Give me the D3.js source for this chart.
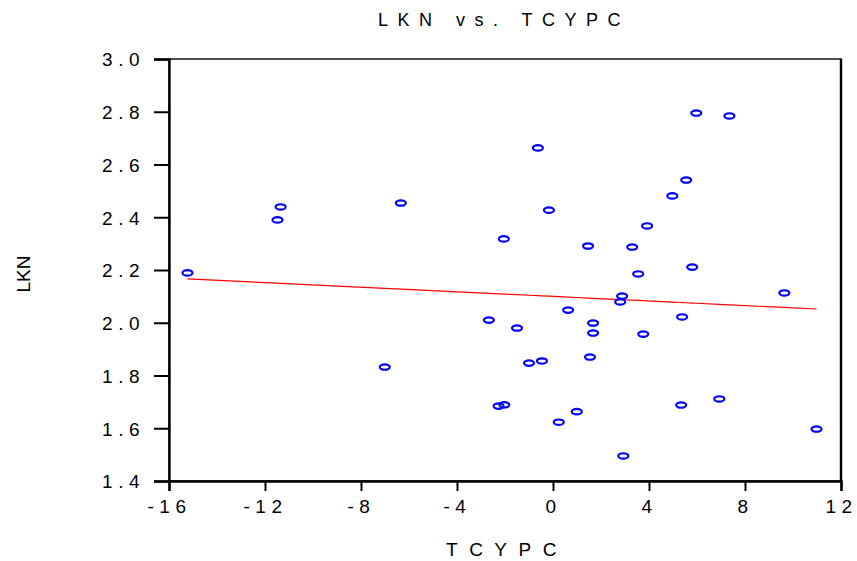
<!DOCTYPE html>
<html>
<head>
<meta charset="utf-8">
<script src="https://cdn.jsdelivr.net/npm/d3@7"></script>
<style>
  body { margin: 0; background: #fff; }
  svg { display: block; font-family: "Liberation Sans", Arial, sans-serif; }
</style>
</head>
<body>
<svg width="857" height="561"></svg>
<script>
"use strict";
// TCYPC (x) and LKN (y)
var tcypc = [-15.23, -11.48, -11.35, -6.34, -7.01, -0.63, -0.17, -2.05, 1.46, 3.30,
             3.92, 3.55, 4.97, 5.55, 5.97, 7.35, 5.80, 9.64, 2.88, 2.80,
             -2.67, -1.50, 0.63, 1.67, 1.67, 3.76, 5.38, 1.54, -1.00, -0.46,
             -2.27, -2.03, 0.24, 0.99, 2.93, 5.34, 6.93, 10.98];
var lkn = [2.189, 2.390, 2.439, 2.454, 1.832, 2.663, 2.427, 2.318, 2.291, 2.287,
           2.367, 2.185, 2.481, 2.541, 2.795, 2.784, 2.211, 2.113, 2.101, 2.079,
           2.010, 1.980, 2.048, 1.999, 1.961, 1.957, 2.022, 1.870, 1.847, 1.855,
           1.684, 1.689, 1.623, 1.663, 1.495, 1.688, 1.711, 1.597];
var xTicks = [-16, -12, -8, -4, 0, 4, 8, 12];
var xTickLabels = ["-16", "-12", "-8", "-4", "0", "4", "8", "12"];
var yTicks = [1.4, 1.6, 1.8, 2.0, 2.2, 2.4, 2.6, 2.8, 3.0];
var yTickLabels = ["1.4", "1.6", "1.8", "2.0", "2.2", "2.4", "2.6", "2.8", "3.0"];

var pts = tcypc.map((x, i) => ({x: x, y: lkn[i]}));

var plotL = 169, plotR = 841, plotT = 59, plotB = 481;
var x = d3.scaleLinear().domain([-16, 12]).range([plotL, plotR]);
var y = d3.scaleLinear().domain([1.4, 3.0]).range([plotB, plotT]);

var svg = d3.select("svg");

// plot frame
svg.append("rect")
  .attr("x", plotL).attr("y", plotT)
  .attr("width", plotR - plotL).attr("height", plotB - plotT)
  .attr("fill", "none").attr("stroke", "#222").attr("stroke-width", 1.6);
svg.append("line")
  .attr("x1", plotR).attr("x2", plotR).attr("y1", plotT).attr("y2", plotB)
  .attr("stroke", "#000").attr("stroke-width", 2.4);

var xAxis = svg.append("g")
  .attr("transform", "translate(0," + plotB + ")")
  .call(d3.axisBottom(x).tickValues(xTicks).tickSize(10).tickPadding(9)
    .tickFormat((d, i) => xTickLabels[i]));
var yAxis = svg.append("g")
  .attr("transform", "translate(" + plotL + ",0)")
  .call(d3.axisLeft(y).tickValues(yTicks).tickSize(15).tickPadding(9)
    .tickFormat((d, i) => yTickLabels[i]));

[xAxis, yAxis].forEach(g => {
  g.select(".domain").attr("stroke", "#000").attr("stroke-width", 2.4);
  g.selectAll(".tick line").attr("stroke", "#000").attr("stroke-width", 2);
  g.selectAll(".tick text")
    .attr("fill", "#000")
    .style("font-size", "19px")
    .style("letter-spacing", "5.5px")
    .style("font-family", "'Liberation Sans', Arial, sans-serif");
});
yAxis.selectAll(".tick text").attr("dy", "0.36em");

// least squares fit
var mx = d3.mean(pts, d => d.x), my = d3.mean(pts, d => d.y);
var slope = d3.sum(pts, d => (d.x - mx) * (d.y - my)) / d3.sum(pts, d => (d.x - mx) * (d.x - mx));
var icpt = my - slope * mx;
var fitted = pts.slice().sort((a, b) => a.x - b.x).map(d => ({x: d.x, y: icpt + slope * d.x}));

svg.append("path")
  .datum(fitted)
  .attr("d", d3.line().x(d => x(d.x)).y(d => y(d.y)))
  .attr("fill", "none")
  .attr("stroke", "#ff0000")
  .attr("stroke-width", 1.2);

svg.append("g").selectAll("ellipse")
  .data(pts)
  .enter()
  .append("ellipse")
  .attr("cx", d => x(d.x))
  .attr("cy", d => y(d.y))
  .attr("rx", 5)
  .attr("ry", 2.7)
  .attr("fill", "none")
  .attr("stroke", "#0000ff")
  .attr("stroke-width", 2.2);

// titles
svg.append("text")
  .attr("x", 504).attr("y", 26)
  .attr("text-anchor", "middle")
  .style("font-size", "18px")
  .style("letter-spacing", "9.5px")
  .text("LKN vs. TCYPC");

svg.append("text")
  .attr("x", 507).attr("y", 556)
  .attr("text-anchor", "middle")
  .style("font-size", "19px")
  .style("letter-spacing", "11.5px")
  .text("TCYPC");

svg.append("text")
  .attr("transform", "translate(30,274) rotate(-90)")
  .attr("text-anchor", "middle")
  .style("font-size", "19px")
  .text("LKN");
</script>
</body>
</html>
